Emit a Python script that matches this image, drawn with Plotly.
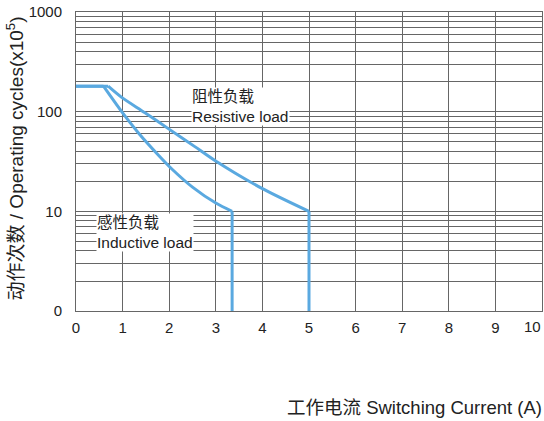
import plotly.graph_objects as go

# ---- data ----
flat_level = 180          # operating cycles (x10^5) at low current
min_level = 1             # bottom of axis (labelled "0")

res_x = [0.69, 0.98, 1.48, 1.98, 2.55, 2.98, 3.98, 5.0]
res_y = [180, 139, 97.6, 67.6, 44.6, 32.4, 17.1, 10]

ind_x = [0.59, 0.98, 1.34, 1.77, 2.08, 2.5, 3.0, 3.35]
ind_y = [180, 100, 61.2, 36.6, 26.0, 17.5, 12.1, 10]

x_ticks = [0, 1, 2, 3, 4, 5, 6, 7, 8, 9, 10]
y_grid = [1, 2, 3, 4, 5, 6, 7, 8, 9, 10, 20, 30, 40, 50, 60, 70, 80, 90,
          100, 200, 300, 400, 500, 600, 700, 800, 900, 1000]
y_labels = {1: "0", 10: "10", 100: "100", 1000: "1000"}

LINE = "#5aa9e0"
GRID = "#666666"
TXT = "#222222"
FONT = "Liberation Sans, Arial, Noto Sans CJK SC, sans-serif"

fig = go.Figure()

def add_series(cx, cy):
    # flat part
    fig.add_trace(go.Scatter(x=[0, cx[0]], y=[flat_level, flat_level], mode="lines",
                             line=dict(color=LINE, width=3), showlegend=False, hoverinfo="skip"))
    # curved part
    fig.add_trace(go.Scatter(x=cx, y=cy, mode="lines",
                             line=dict(color=LINE, width=3, shape="spline", smoothing=0.8),
                             showlegend=False, hoverinfo="skip"))
    # vertical drop
    fig.add_trace(go.Scatter(x=[cx[-1], cx[-1]], y=[cy[-1], min_level], mode="lines",
                             line=dict(color=LINE, width=3), showlegend=False, hoverinfo="skip"))

add_series(res_x, res_y)
add_series(ind_x, ind_y)

# last x tick label sits at the window edge: draw it as an annotation pulled inside
x_ticktext = [str(v) for v in x_ticks[:-1]] + [""]

fig.update_xaxes(range=[0, 10], tickvals=x_ticks, ticktext=x_ticktext,
                 showgrid=True, gridcolor=GRID, gridwidth=1,
                 showline=True, linecolor=GRID, linewidth=1, mirror=True,
                 zeroline=False, ticks="", ticklabelstandoff=3,
                 tickfont=dict(family=FONT, size=15, color=TXT))
fig.update_yaxes(type="log", range=[0, 3], tickvals=y_grid,
                 ticktext=[y_labels.get(v, "") for v in y_grid],
                 showgrid=True, gridcolor=GRID, gridwidth=1,
                 showline=True, linecolor=GRID, linewidth=1, mirror=True,
                 zeroline=False, ticks="", ticklabelstandoff=10,
                 tickfont=dict(family=FONT, size=15, color=TXT))

fig.add_annotation(text=str(x_ticks[-1]), xref="paper", yref="paper", x=1.0, y=-0.053,
                   xanchor="right", yanchor="middle", showarrow=False, xshift=1,
                   font=dict(family=FONT, size=15, color=TXT))

# leader lines + labels
fig.add_annotation(x=res_x[3], y=res_y[3], xref="x", yref="y", ax=21, ay=-21,
                   text="", showarrow=True, arrowhead=0, arrowwidth=1, arrowcolor="#333")
fig.add_annotation(x=ind_x[4], y=ind_y[4], xref="x", yref="y", ax=-31, ay=33,
                   text="", showarrow=True, arrowhead=0, arrowwidth=1, arrowcolor="#333")

fig.add_annotation(text="阻性负载<br>Resistive load", xref="paper", yref="paper",
                   x=0.247, y=0.685, xanchor="left", yanchor="middle", align="left",
                   showarrow=False, bgcolor="white", borderpad=0,
                   font=dict(family=FONT, size=15.5, color=TXT))
fig.add_annotation(text="感性负载<br>Inductive load", xref="paper", yref="paper",
                   x=0.043, y=0.262, xanchor="left", yanchor="middle", align="left",
                   showarrow=False, bgcolor="white", borderpad=0,
                   font=dict(family=FONT, size=15.5, color=TXT))

# axis titles
fig.add_annotation(text="工作电流 Switching Current (A)", xref="paper", yref="paper",
                   x=1.0, y=-0.324, xanchor="right", yanchor="middle", showarrow=False,
                   xshift=2, font=dict(family=FONT, size=18.5, color=TXT))
fig.add_annotation(text="动作次数 / Operating cycles(x10<sup>5</sup>)", xref="paper", yref="paper",
                   x=-0.131, y=0.51, xanchor="center", yanchor="middle", textangle=-90,
                   showarrow=False, font=dict(family=FONT, size=19, color=TXT))

fig.update_layout(width=544, height=421, margin=dict(l=76, r=2, t=12, b=110),
                  paper_bgcolor="white", plot_bgcolor="white", showlegend=False)

fig.write_html("out.html", config={"displayModeBar": False, "staticPlot": True},
               post_script="document.body.style.margin='0';"
                           "document.documentElement.style.overflow='hidden';"
                           "document.body.style.overflow='hidden';")
